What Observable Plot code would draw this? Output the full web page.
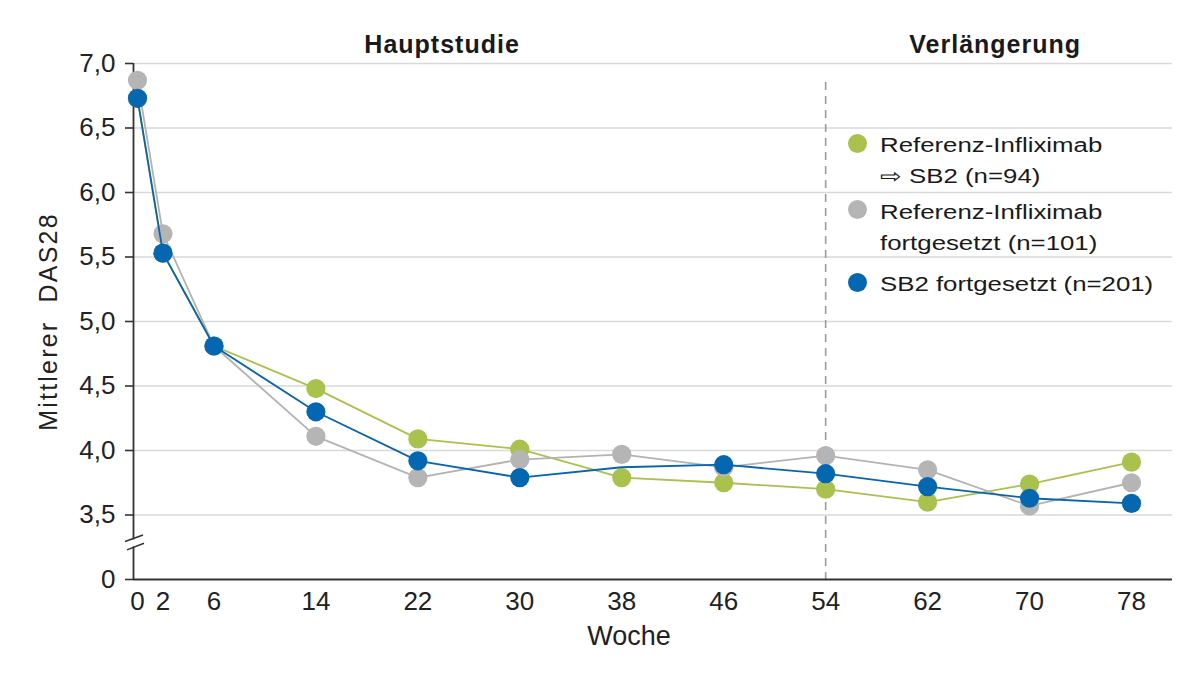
<!DOCTYPE html>
<html>
<head>
<meta charset="utf-8">
<script src="https://cdn.jsdelivr.net/npm/d3@7"></script>
<script src="https://cdn.jsdelivr.net/npm/@observablehq/plot@0.6"></script>
<style>
  html, body { margin: 0; padding: 0; background: #fff; }
  #wrap { position: relative; width: 1200px; height: 680px; font-family: "Liberation Sans", Arial, sans-serif; color: #1a1a1a; }
  #wrap svg text { white-space: pre; }
  .leg-dot { position: absolute; width: 19px; height: 19px; border-radius: 50%; }
  .leg-txt { position: absolute; font-size: 20px; line-height: 31px; white-space: nowrap; transform: scaleX(1.29); transform-origin: left top; }
</style>
</head>
<body>
<div id="wrap"></div>
<script>
// ---- data ----
const weeks = [0, 2, 6, 14, 22, 30, 38, 46, 54, 62, 70, 78];
const seriesNames = ["Referenz-Infliximab ⇨ SB2 (n=94)", "Referenz-Infliximab fortgesetzt (n=101)", "SB2 fortgesetzt (n=201)"];
const legendLines = [["Referenz-Infliximab", "⇨ SB2 (n=94)"], ["Referenz-Infliximab", "fortgesetzt (n=101)"], ["SB2 fortgesetzt (n=201)"]];
const switchedValues = [6.73, 5.53, 4.81, 4.48, 4.09, 4.01, 3.79, 3.75, 3.70, 3.60, 3.74, 3.91];
const refValues      = [6.87, 5.68, 4.81, 4.11, 3.79, 3.93, 3.97, 3.87, 3.96, 3.85, 3.57, 3.75];
const sb2Values      = [6.73, 5.53, 4.81, 4.30, 3.92, 3.79, 3.87, 3.89, 3.82, 3.72, 3.63, 3.59];
const sb2HiddenDotWeeks = [38];
const yTicks = [3, 3.5, 4, 4.5, 5, 5.5, 6, 6.5, 7];
const yTickLabels = ["0", "3,5", "4,0", "4,5", "5,0", "5,5", "6,0", "6,5", "7,0"];
const extensionStartWeek = 54;
const headers = ["Hauptstudie", "Verlängerung"];
const xLabel = "Woche";
const yLabel = "Mittlerer  DAS28";

// ---- build ----
const colors = ["#a9c14d", "#b5b5b5", "#0667b1"];
const lineColors = ["#a9c14d", "#b3b3b3", "#0a64ad"];
const allValues = [switchedValues, refValues, sb2Values];
const series = allValues.map((vals, s) => weeks.map((w, i) => ({week: w, value: vals[i], s})));
const headerWeeks = [23.9, 67.3];
const font = "Liberation Sans, Arial, sans-serif";
const inL = 4;

const marks = [
  Plot.ruleY(yTicks.filter(d => d > 3), {stroke: "#d9d9d9", strokeWidth: 1.6}),
  Plot.ruleX([extensionStartWeek], {stroke: "#9b9b9b", strokeWidth: 1.6, strokeDasharray: "8,6", insetTop: 19}),
  Plot.axisY({ticks: yTicks, tickFormat: d => yTickLabels[yTicks.indexOf(d)], tickSize: 8, tickPadding: 10, fontSize: 26, label: null, stroke: "#333", strokeWidth: 1.6, color: "#222"}),
  Plot.axisX({ticks: weeks, tickSize: 0, tickPadding: 12, fontSize: 26, label: null, color: "#222"}),
  Plot.ruleY([3], {stroke: "#333", strokeWidth: 1.8}),
  Plot.ruleX([0], {stroke: "#333", strokeWidth: 1.8, dx: -inL}),
  Plot.text([xLabel], {frameAnchor: "bottom", lineAnchor: "middle", dy: 57, dx: -24, fontSize: 27, fill: "#222"}),
  Plot.text([yLabel], {frameAnchor: "left", textAnchor: "middle", lineAnchor: "middle", rotate: -90, dx: -85, fontSize: 25, fill: "#222"}),
  Plot.text(headers, {x: (d, i) => headerWeeks[i], frameAnchor: "top", lineAnchor: "middle", dy: -19, fontSize: 25, fontWeight: "bold", fill: "#1a1a1a"})
];
series.forEach((data, s) => {
  marks.push(Plot.line(data, {x: "week", y: "value", stroke: lineColors[s], strokeWidth: 1.8}));
  const dotData = s === 2 ? data.filter(d => !sb2HiddenDotWeeks.includes(d.week)) : data;
  marks.push(Plot.dot(dotData, {x: "week", y: "value", r: 9.6, fill: colors[s], stroke: "none"}));
});

const chart = Plot.plot({
  width: 1200,
  height: 680,
  marginLeft: 133,
  marginRight: 28,
  marginTop: 63,
  marginBottom: 101,
  style: {fontFamily: font, background: "white", overflow: "visible"},
  x: {domain: [0, 78], insetLeft: inL, insetRight: 41},
  y: {domain: [3, 7]},
  marks
});

const wrap = document.getElementById("wrap");
wrap.appendChild(chart);

// letter spacing tweaks
const svg = d3.select(chart);
svg.selectAll("text").filter(function() { return headers.includes(this.textContent); }).style("letter-spacing", "1px");
svg.selectAll("text").filter(function() { return this.textContent === yLabel; }).style("letter-spacing", "2.2px");

// axis break marks
const ys = chart.scale("y"), xs = chart.scale("x");
const ax = xs.apply(0) - inL, yb = ys.apply(3.28);
svg.append("rect").attr("x", ax - 4).attr("y", yb - 3.5).attr("width", 8).attr("height", 7).attr("fill", "white");
svg.append("line").attr("x1", ax - 8).attr("y1", yb - 1.3).attr("x2", ax + 10).attr("y2", yb - 8).attr("stroke", "#333").attr("stroke-width", 1.6);
svg.append("line").attr("x1", ax - 6).attr("y1", yb + 7).attr("x2", ax + 11).attr("y2", yb + 0.3).attr("stroke", "#333").attr("stroke-width", 1.6);

// legend
const legTops = [130, 197, 269];
const legDotY = [143, 209, 282];
legendLines.forEach((lines, i) => {
  const dot = document.createElement("div");
  dot.className = "leg-dot";
  dot.style.background = colors[i];
  dot.style.left = (857 - 9.5) + "px";
  dot.style.top = (legDotY[i] - 9.5) + "px";
  wrap.appendChild(dot);
  const t = document.createElement("div");
  t.className = "leg-txt";
  t.style.left = "880px";
  t.style.top = legTops[i] + "px";
  t.innerHTML = lines.map(l => l.replace(/&/g, "&amp;")).join("<br>");
  t.title = seriesNames[i];
  wrap.appendChild(t);
});
</script>
</body>
</html>
